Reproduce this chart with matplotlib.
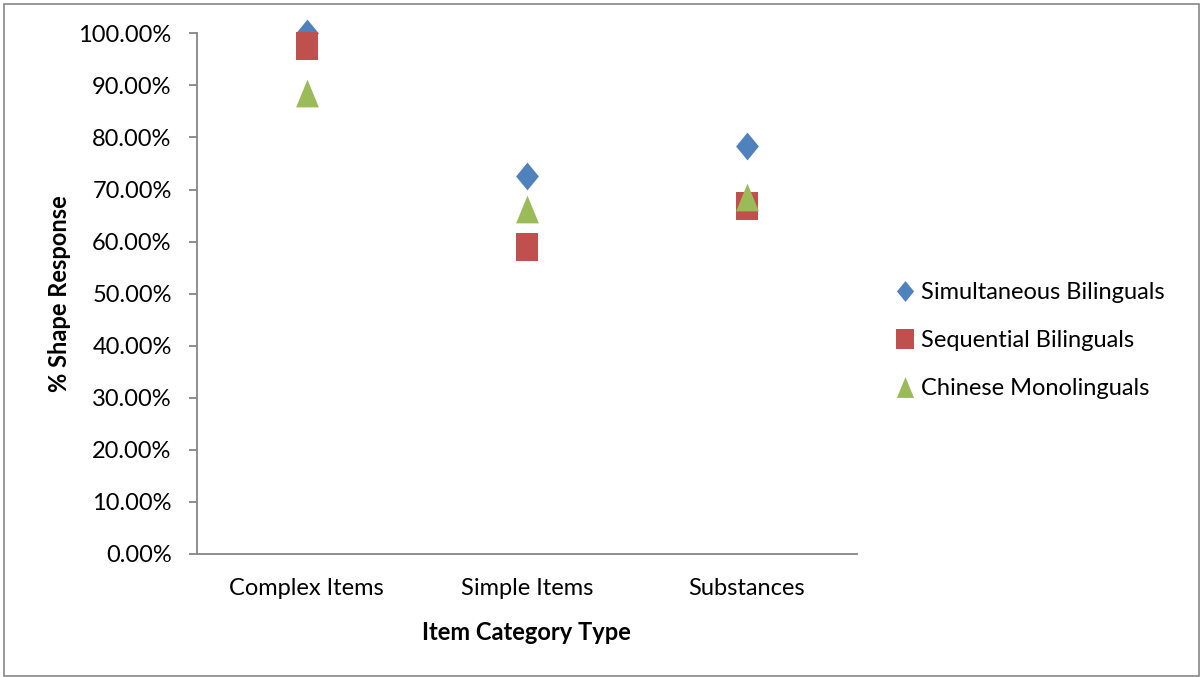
import matplotlib
matplotlib.use("Agg")
import matplotlib.pyplot as plt
from matplotlib.patches import Rectangle
from matplotlib.ticker import PercentFormatter

categories = ['Complex Items', 'Simple Items', 'Substances']
simultaneous = [1.000, 0.726, 0.783]
sequential = [0.976, 0.590, 0.669]
monolingual = [0.886, 0.662, 0.686]
series_names = ['Simultaneous Bilinguals', 'Sequential Bilinguals', 'Chinese Monolinguals']

plt.rcParams['font.family'] = ['Lato', 'DejaVu Sans']

# markers in Excel are a bit taller than wide
w = 0.82
diamond = [(0, 1), (w, 0), (0, -1), (-w, 0), (0, 1)]
square = [(-w, -1), (w, -1), (w, 1), (-w, 1), (-w, -1)]
triangle = [(-w, -1), (w, -1), (0, 1), (-w, -1)]

fs = 17

fig = plt.figure(figsize=(12.03, 6.77), dpi=100)
ax = fig.add_axes([0.1635, 0.1817, 0.5489, 0.7691])

x = range(len(categories))
styles = [(simultaneous, diamond, '#4F81BD'),
          (sequential, square, '#C0504D'),
          (monolingual, triangle, '#9BBB59')]
for (vals, mk, col), name in zip(styles, series_names):
    ax.plot(x, vals, linestyle='none', marker=mk, markersize=20,
            color=col, markeredgewidth=0, label=name, clip_on=False)

ax.set_xlim(-0.5, 2.5)
ax.set_ylim(0, 1)
ax.set_yticks([i / 10 for i in range(11)])
ax.yaxis.set_major_formatter(PercentFormatter(1.0, decimals=2))
ax.set_xticks(list(x))
ax.set_xticklabels(categories)

for s in ['top', 'right']:
    ax.spines[s].set_visible(False)
for s in ['left', 'bottom']:
    ax.spines[s].set_color('#868686')
    ax.spines[s].set_linewidth(1.3)
ax.tick_params(axis='y', length=6, width=1.3, color='#868686', pad=12, labelsize=fs)
ax.tick_params(axis='x', length=0, pad=17, labelsize=fs)

ax.set_ylabel('% Shape Response', fontsize=fs, fontweight='bold', labelpad=5)
ax.set_xlabel('Item Category Type', fontsize=fs, fontweight='bold', labelpad=16)

ax.legend(loc='center left', bbox_to_anchor=(1.03, 0.41), frameon=False,
          fontsize=fs, markerscale=0.75, handlelength=0.6, handletextpad=0.35,
          labelspacing=1.15)

fig.patches.append(Rectangle((0.003, 0.002), 0.994, 0.992, transform=fig.transFigure,
                             fill=False, edgecolor='#868686', linewidth=1.2))

fig.savefig('out.png', dpi=100)
